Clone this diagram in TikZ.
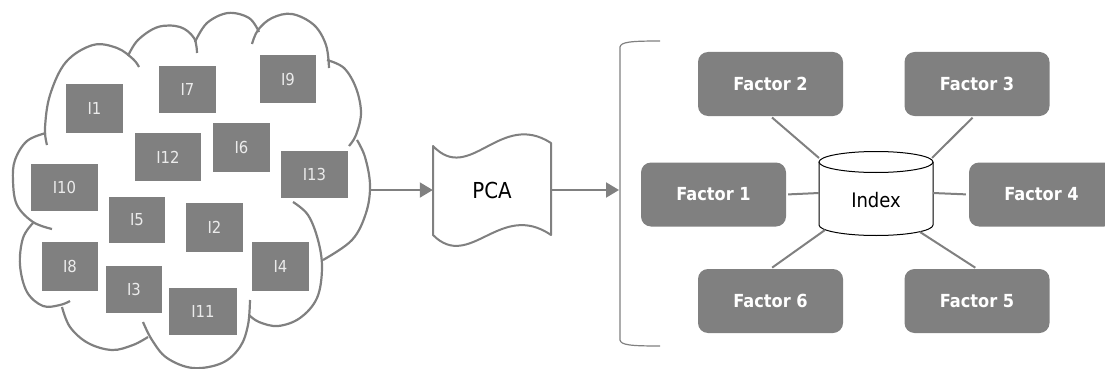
\documentclass[tikz,border=0pt]{standalone}
\usepackage{fontspec}
\newfontfamily\cf{DejaVu Sans Condensed}
\usetikzlibrary{arrows.meta}
\definecolor{gr}{HTML}{808080}
\definecolor{lt}{HTML}{EBEBEB}
\tikzset{
  ibox/.style={fill=gr, draw=none, inner sep=0pt, text=lt, font=\cf\fontsize{16.5}{18}\selectfont},
  fbox/.style={fill=gr, draw=none, rounded corners=10pt, minimum width=145pt, minimum height=64pt, inner sep=0pt, text=white, font=\cf\bfseries\fontsize{18}{20}\selectfont},
  lobe/.style={draw=gr, line width=2.2pt, smooth, tension=0.6},
  flow/.style={draw=gr, line width=2pt, -{Triangle[length=13pt,width=15pt]}},
  spoke/.style={draw=gr, line width=2pt},
}
\begin{document}
\begin{tikzpicture}[x=1pt,y=-1pt]
\useasboundingbox (0,0) rectangle (1105,369);
\clip (0,0) rectangle (1105,369);
% cloud
\draw[lobe] plot coordinates {(46,133) (27,141) (15,160) (13,181) (17,205) (33,222) (52,229)};
\draw[lobe] plot coordinates {(47,145) (45,128) (50,95) (66,62) (93,45) (117,48) (133,59) (139,67)};
\draw[lobe] plot coordinates {(128,56) (138,40) (158,27) (180,27) (194,38) (197,53)};
\draw[lobe] plot coordinates {(195,42) (207,23) (228,13) (249,18) (259,32)};
\draw[lobe] plot coordinates {(252,44) (258,30) (272,18) (292,14) (314,25) (326,45) (329,68)};
\draw[lobe] plot coordinates {(327,60) (344,68) (356,88) (361,113) (356,135) (349,146)};
\draw[lobe] plot coordinates {(357,140) (365,157) (370,185) (366,213) (352,240) (323,260)};
\draw[lobe] plot coordinates {(293,202) (308,215) (318,240) (322,268) (317,298) (300,318) (278,326) (259,322) (249,315)};
\draw[lobe] plot coordinates {(250,300) (248,325) (240,347) (222,363) (193,368) (167,358) (152,340) (143,322)};
\draw[lobe] plot coordinates {(148,337) (133,345) (112,350) (88,343) (70,327) (62,307)};
\draw[lobe] plot coordinates {(70,301) (60,305) (43,306) (27,292) (20,265) (23,238) (33,223)};
\coordinate (cloudR) at (370,190);
% items
\node[ibox, minimum width=57pt, minimum height=49pt] (i1) at (94.5,108.5) {I1};
\node[ibox, minimum width=57pt, minimum height=47pt] (i7) at (187.5,89.5) {I7};
\node[ibox, minimum width=56pt, minimum height=48pt] (i9) at (288,79) {I9};
\node[ibox, minimum width=66pt, minimum height=48pt] (i12) at (168,157) {I12};
\node[ibox, minimum width=57pt, minimum height=49pt] (i6) at (241.5,147.5) {I6};
\node[ibox, minimum width=67pt, minimum height=47pt] (i13) at (314.5,174.5) {I13};
\node[ibox, minimum width=67pt, minimum height=47pt] (i10) at (64.5,187.5) {I10};
\node[ibox, minimum width=56pt, minimum height=46pt] (i5) at (137,220) {I5};
\node[ibox, minimum width=57pt, minimum height=49pt] (i2) at (214.5,227.5) {I2};
\node[ibox, minimum width=56pt, minimum height=49pt] (i8) at (70,266.5) {I8};
\node[ibox, minimum width=57pt, minimum height=49pt] (i4) at (280.5,266.5) {I4};
\node[ibox, minimum width=56pt, minimum height=47pt] (i3) at (134,289.5) {I3};
\node[ibox, minimum width=68pt, minimum height=47pt] (i11) at (203,311.5) {I11};
% PCA
\draw[draw=gr, line width=2pt, fill=white, line join=round]
  (433,146) .. controls (470,185) and (500,110) .. (551,143)
  -- (551,235) .. controls (500,200) and (470,272) .. (433,235) -- cycle;
\node[minimum width=118pt, minimum height=89pt, inner sep=0pt, font=\cf\fontsize{22}{24}\selectfont] (pca) at (492,190) {PCA};
% bracket
\draw[gr, line width=1.2pt] (660,41) .. controls (630,41) and (621,42) .. (620,47) -- (620,340) .. controls (621,345) and (630,346) .. (660,346);
\coordinate (brk) at (619,190);
\draw[flow] (cloudR) -- (pca.west);
\draw[flow] (pca.east) -- (brk);
% index cylinder
\draw[black, line width=1pt, fill=white] (819,162) -- (819,225) arc[start angle=180, end angle=0, x radius=57, y radius=10.5] -- (933,162);
\draw[black, line width=1pt, fill=white] (876,162) ellipse[x radius=57, y radius=10.5];
\node[inner sep=0pt, font=\cf\fontsize{20}{22}\selectfont] (idx) at (876,200) {Index};
\coordinate (cTL) at (819,158);
\coordinate (cTR) at (932,158);
\coordinate (cL) at (819,193);
\coordinate (cR) at (933,193);
\coordinate (cBL) at (825,230);
\coordinate (cBR) at (920,232);
% factors
\node[fbox] (f2) at (770.5,84) {Factor 2};
\node[fbox] (f3) at (977,84) {Factor 3};
\node[fbox] (f1) at (713.5,194.5) {Factor 1};
\node[fbox] (f4) at (1041.5,194.5) {Factor 4};
\node[fbox] (f6) at (770.5,301) {Factor 6};
\node[fbox] (f5) at (977,301) {Factor 5};
\draw[spoke, shorten <=2pt] (f2.south) -- (cTL);
\draw[spoke, shorten <=2pt] ([xshift=-3pt]f3.south) -- (cTR);
\draw[spoke, shorten <=2pt] (f1.east) -- (cL);
\draw[spoke, shorten <=3pt] (f4.west) -- (cR);
\draw[spoke, shorten <=2pt] (f6.north) -- (cBL);
\draw[spoke, shorten <=2pt] (f5.north) -- (cBR);
\end{tikzpicture}
\end{document}
